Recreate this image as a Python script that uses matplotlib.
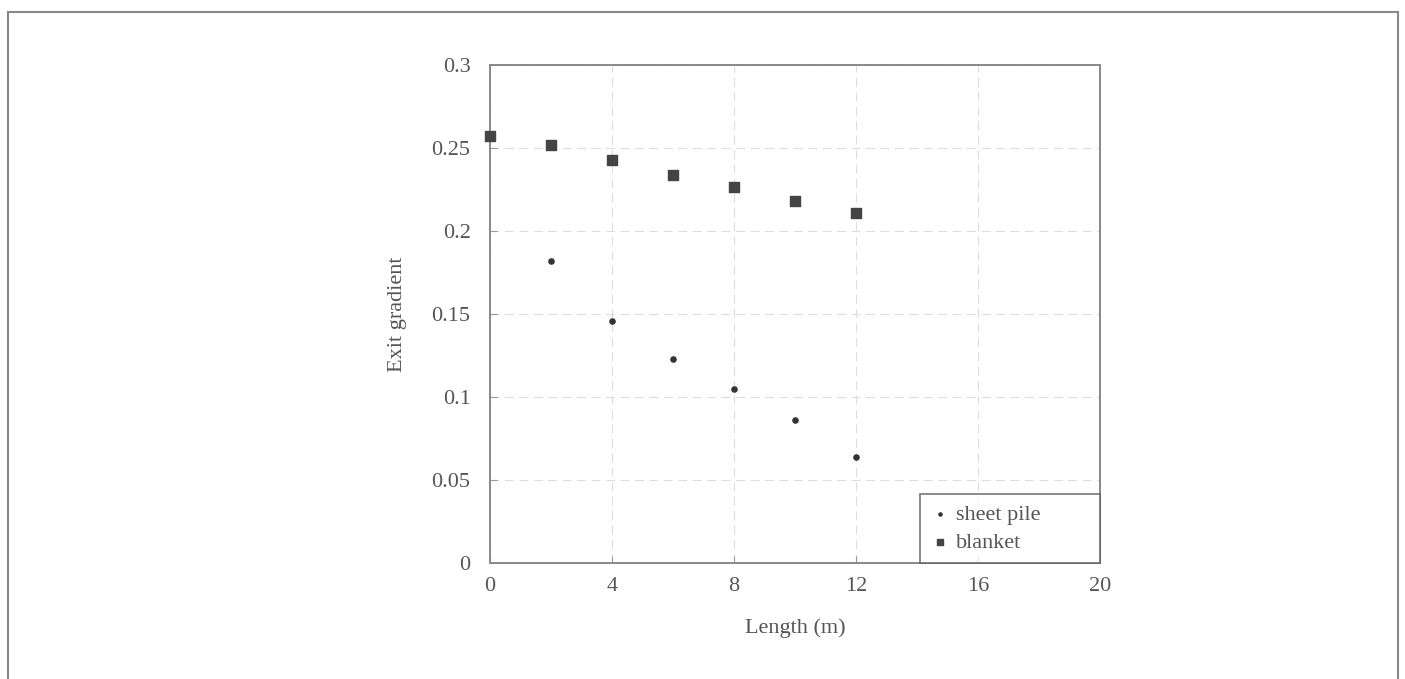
import matplotlib.pyplot as plt
from matplotlib.lines import Line2D

plt.rcParams['font.family'] = ['Liberation Serif', 'DejaVu Serif']

length = [0, 2, 4, 6, 8, 10, 12]
blanket = [0.257, 0.252, 0.243, 0.234, 0.2265, 0.218, 0.211]
sheet_len = [2, 4, 6, 8, 10, 12]
sheet_pile = [0.182, 0.146, 0.123, 0.105, 0.086, 0.064]

xticks = [0, 4, 8, 12, 16, 20]
yticks = [0, 0.05, 0.1, 0.15, 0.2, 0.25, 0.3]
ytick_labels = ['0', '0.05', '0.1', '0.15', '0.2', '0.25', '0.3']

text_col = '#555555'
fig = plt.figure(figsize=(14.05, 6.79), dpi=100)
ax = fig.add_axes([0.3488, 0.1708, 0.4342, 0.7334])

ax.scatter(sheet_len, sheet_pile, s=14, marker='o', color='#333333',
           label='sheet pile', zorder=3, clip_on=False)
ax.scatter(length, blanket, s=60, marker='s', color='#444444',
           label='blanket', zorder=3, clip_on=False)

ax.set_xlim(0, 20)
ax.set_ylim(0, 0.3)
ax.set_xticks(xticks)
ax.set_yticks(yticks)
ax.set_yticklabels(ytick_labels)
ax.tick_params(direction='in', length=5, color='#999999', labelsize=16,
               labelcolor=text_col)
ax.tick_params(axis='y', pad=14)
ax.tick_params(axis='x', pad=10)
ax.grid(True, color='#dddddd', linestyle=(0, (8, 5)), linewidth=0.8)
for sp in ax.spines.values():
    sp.set_color('#888888')
    sp.set_linewidth(1.4)

ax.set_xlabel('Length (m)', fontsize=16, color=text_col, labelpad=16)
ax.set_ylabel('Exit gradient', fontsize=16, color=text_col, labelpad=18)

leg = ax.legend(loc='lower left', bbox_to_anchor=(0.705, 0.0, 0.295, 0.142),
                mode='expand', borderaxespad=0, fontsize=16, frameon=True,
                fancybox=False, handletextpad=0.25, handlelength=0.9,
                markerscale=0.6, labelcolor=text_col, borderpad=0.45,
                labelspacing=0.35)
leg.get_frame().set_edgecolor('#555555')
leg.get_frame().set_linewidth(1.2)

# scanned page border
fig.add_artist(Line2D([0.006, 0.006], [0.0, 0.982], color='#888888', lw=1.5))
fig.add_artist(Line2D([0.006, 0.995], [0.982, 0.982], color='#888888', lw=1.5))
fig.add_artist(Line2D([0.995, 0.995], [0.0, 0.982], color='#888888', lw=1.5))

fig.savefig('out.png', dpi=100)
